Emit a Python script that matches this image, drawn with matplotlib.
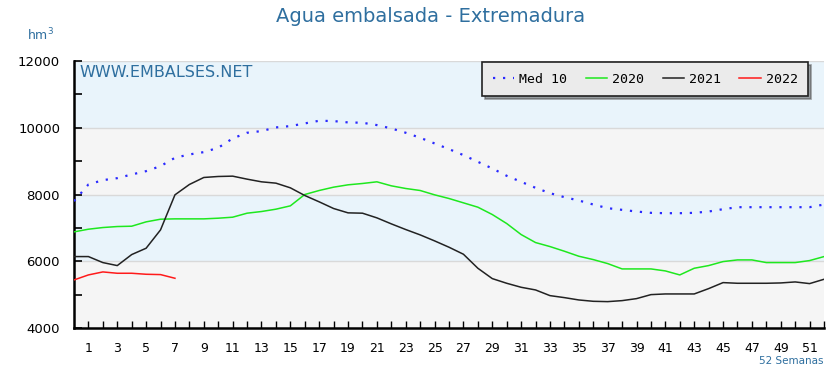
import matplotlib
matplotlib.use("Agg")
import matplotlib.pyplot as plt
import numpy as np

weeks = np.arange(0, 53)
med10 = [7800, 8300, 8430, 8490, 8600, 8700, 8850, 9100, 9200, 9270,
         9400, 9680, 9850, 9900, 10010, 10050, 10130, 10210, 10200, 10160,
         10150, 10080, 9980, 9850, 9700, 9530, 9360, 9180, 8980, 8780,
         8560, 8380, 8200, 8040, 7920, 7820, 7700, 7590, 7540, 7490,
         7450, 7440, 7440, 7450, 7490, 7560, 7620, 7620, 7620, 7620,
         7620, 7620, 7700]
y2020 = [6880, 6960, 7010, 7040, 7050, 7180, 7260, 7270, 7270, 7270,
         7290, 7320, 7440, 7490, 7560, 7660, 8000, 8120, 8220, 8290,
         8330, 8380, 8260, 8180, 8120, 7990, 7880, 7750, 7620, 7400,
         7130, 6800, 6560, 6440, 6300, 6150, 6050, 5930, 5770, 5770,
         5770, 5710, 5590, 5790, 5870, 5990, 6040, 6040, 5960, 5960,
         5960, 6020, 6140]
y2021 = [6140, 6140, 5960, 5870, 6200, 6390, 6940, 7990, 8300, 8510,
         8540, 8550, 8460, 8380, 8340, 8200, 7970, 7780, 7580, 7450,
         7440, 7300, 7120, 6950, 6790, 6610, 6420, 6210, 5790, 5480,
         5340, 5220, 5140, 4970, 4910, 4840, 4800, 4790, 4820, 4880,
         5000, 5020, 5020, 5020, 5180, 5360, 5340, 5340, 5340, 5350,
         5380, 5330, 5460]
y2022 = [5440, 5590, 5680, 5640, 5640, 5610, 5600, 5490]

blue_txt = "#2f6f9f"

fig = plt.figure(figsize=(8.37, 3.72), dpi=100)
ax = fig.add_axes([0.0884, 0.1183, 0.8961, 0.7177])

# background bands
for lo, hi, c in [(4000, 6000, "#f5f5f5"), (6000, 8000, "#e9f4fb"),
                  (8000, 10000, "#f5f5f5"), (10000, 12000, "#e9f4fb")]:
    ax.axhspan(lo, hi, color=c, lw=0, zorder=0)
for yv in [6000, 8000, 10000, 12000]:
    ax.axhline(yv, color="#d9d9d9", lw=1, zorder=1)

ax.plot(weeks, med10, color="#2a2aff", lw=1.6, ls=(0, (1, 3.5)), label="Med 10", zorder=3)
ax.plot(weeks, y2020, color="#1ee81e", lw=1.1, label="2020", zorder=3)
ax.plot(weeks, y2021, color="#222222", lw=1.1, label="2021", zorder=3)
ax.plot(weeks[:len(y2022)], y2022, color="#ff1a1a", lw=1.1, label="2022", zorder=3)

ax.set_xlim(0, 52)
ax.set_ylim(4000, 12000)
ax.set_xticks(np.arange(1, 53))
ax.set_xticklabels([str(w) if w % 2 == 1 else "" for w in range(1, 53)], fontsize=9)
ax.set_yticks([4000, 6000, 8000, 10000, 12000])
ax.set_yticks([5000, 7000, 9000, 11000], minor=True)
ax.tick_params(axis="x", direction="in", length=5, width=1, pad=10)
ax.tick_params(axis="y", which="both", direction="in", length=6, width=1.2, labelsize=9.5, pad=10)

for s in ["top", "right"]:
    ax.spines[s].set_visible(False)
ax.spines["left"].set_linewidth(1.8)
ax.spines["bottom"].set_linewidth(1.8)

leg = ax.legend(loc="upper right", ncol=4, frameon=True, fancybox=False, shadow=True,
                prop={"family": "DejaVu Sans Mono", "size": 9.5},
                handlelength=1.6, columnspacing=1.4, handletextpad=0.4,
                bbox_to_anchor=(0.988, 1.02), borderpad=0.8)
leg.get_frame().set_facecolor("#ebebeb")
leg.get_frame().set_edgecolor("#222222")
leg.get_frame().set_linewidth(1.2)
leg.get_frame().set_alpha(1)

ax.text(0.007, 0.985, "WWW.EMBALSES.NET", transform=ax.transAxes, ha="left", va="top",
        fontsize=11.5, color=blue_txt)
fig.text(0.515, 0.955, "Agua embalsada - Extremadura", ha="center", va="center",
         fontsize=14, color=blue_txt)
fig.text(0.048, 0.905, "hm$^3$", ha="center", va="center", fontsize=9, color=blue_txt)
fig.text(0.984, 0.03, "52 Semanas", ha="right", va="center", fontsize=7.5, color=blue_txt)

fig.savefig("out.png", dpi=100)
